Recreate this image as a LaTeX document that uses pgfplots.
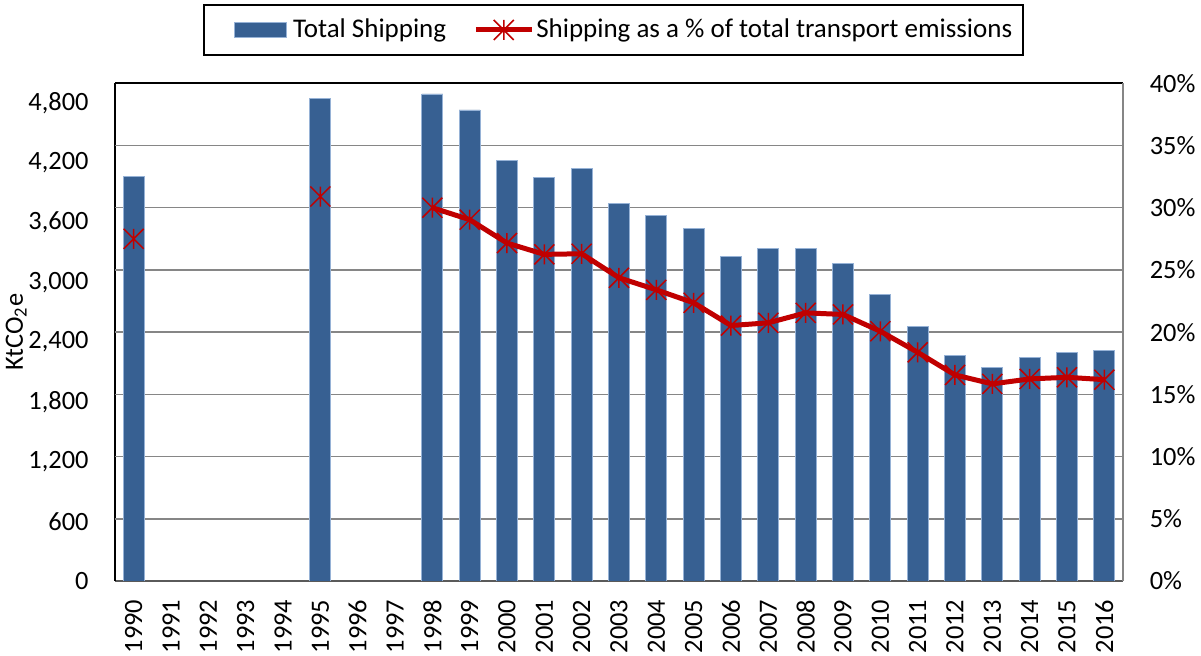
\documentclass[border=0pt]{standalone}
\usepackage{fontspec}
\setmainfont{Carlito}
\usepackage{pgfplots}
\pgfplotsset{compat=1.18}
\definecolor{barblue}{RGB}{55,96,146}
\definecolor{baredge}{RGB}{150,178,214}
\definecolor{linered}{RGB}{192,0,0}
\definecolor{gridgray}{RGB}{134,134,134}
\definecolor{botgray}{RGB}{90,90,90}
\pgfdeclareplotmark{xstar}{%
  \pgfpathmoveto{\pgfqpoint{0pt}{\pgfplotmarksize}}%
  \pgfpathlineto{\pgfqpoint{0pt}{-\pgfplotmarksize}}%
  \pgfpathmoveto{\pgfqpoint{-\pgfplotmarksize}{\pgfplotmarksize}}%
  \pgfpathlineto{\pgfqpoint{\pgfplotmarksize}{-\pgfplotmarksize}}%
  \pgfpathmoveto{\pgfqpoint{-\pgfplotmarksize}{-\pgfplotmarksize}}%
  \pgfpathlineto{\pgfqpoint{\pgfplotmarksize}{\pgfplotmarksize}}%
  \pgfusepathqstroke}
\pgfplotsset{
  linelegend/.style={legend image code/.code={\draw[##1, mark repeat=2, mark phase=2] plot coordinates {(0pt,0pt) (14pt,0pt) (28pt,0pt)};}},
  barlegend/.style={legend image code/.code={\path (-9.5pt,0pt); \draw[fill=barblue, draw=baredge, line width=0.4pt] (0pt,-3.75pt) rectangle (26pt,3.75pt);}},
}
\begin{document}
\begin{tikzpicture}[font=\fontsize{13.2}{15.8}\selectfont]
\path[use as bounding box] (-57.5pt,-37.5pt) rectangle (543pt,290.5pt);
\begin{axis}[
  scale only axis, width=504pt, height=248.85pt,
  xmin=-0.5, xmax=26.5, ymin=0, ymax=5000,
  axis x line*=bottom, axis y line*=left,
  x axis line style={draw=botgray, line width=0.9pt},
  y axis line style={draw=black, line width=0.9pt},
  xtick={0,...,26},
  xticklabels={1990,1991,1992,1993,1994,1995,1996,1997,1998,1999,2000,2001,2002,2003,2004,2005,2006,2007,2008,2009,2010,2011,2012,2013,2014,2015,2016},
  xticklabel style={rotate=90, anchor=east, inner sep=0pt},
  xticklabel shift=9.2pt,
  ytick={0,600,1200,1800,2400,3000,3600,4200,4800},
  yticklabels={0,600,{1,200},{1,800},{2,400},{3,000},{3,600},{4,200},{4,800}},
  yticklabel style={anchor=east, inner sep=0pt, xshift=-13pt},
  major tick length=0pt,
  extra y ticks={625,1250,1875,2500,3125,3750,4375},
  extra y tick labels={},
  extra y tick style={grid=major, major grid style={draw=gridgray, line width=0.75pt}},
  ylabel={KtCO\textsubscript{2}e},
  ylabel style={at={(axis description cs:-0.0873,0.5)}, anchor=south, inner sep=0pt},
  ybar, bar width=10.5pt,
]
\addplot[fill=barblue, draw=baredge, line width=0.4pt] coordinates {
 (0,4060) (5,4850) (8,4893) (9,4732) (10,4228) (11,4054) (12,4148) (13,3792)
 (14,3671) (15,3540) (16,3259) (17,3345) (18,3345) (19,3188) (20,2876)
 (21,2557) (22,2265) (23,2141) (24,2242) (25,2298) (26,2318)};
\end{axis}
\begin{axis}[
  scale only axis, width=504pt, height=248.85pt,
  xmin=-0.5, xmax=26.5, ymin=0, ymax=40,
  axis x line*=top, axis y line*=right,
  x axis line style={draw=black, line width=0.9pt},
  y axis line style={draw=gridgray, line width=0.9pt},
  xtick=\empty,
  ytick={0,5,10,15,20,25,30,35,40},
  yticklabels={0\%,5\%,10\%,15\%,20\%,25\%,30\%,35\%,40\%},
  yticklabel style={anchor=west, inner sep=0pt, xshift=13.2pt},
  major tick length=0pt,
  legend columns=2,
  legend style={at={(0.4945,1.1071)}, anchor=center, draw=black, line width=1pt,
    font=\fontsize{13.5}{16}\selectfont,
    inner xsep=5.5pt, inner ysep=7.2pt, nodes={inner sep=0pt},
    /tikz/column 1/.style={column sep=3pt},
    /tikz/column 2/.style={column sep=13.5pt},
    /tikz/column 3/.style={column sep=1pt}},
  legend cell align=left,
]
\addlegendimage{barlegend}
\addlegendentry{Total Shipping}
\addplot[color=linered, line width=2.5pt, mark=xstar, mark size=5pt,
  mark options={line width=0.75pt, solid}, linelegend]
 coordinates {
 (8,30.0) (9,29.04) (10,27.16) (11,26.25) (12,26.3) (13,24.37) (14,23.4)
 (15,22.36) (16,20.53) (17,20.75) (18,21.55) (19,21.42) (20,20.07)
 (21,18.38) (22,16.56) (23,15.84) (24,16.24) (25,16.37) (26,16.18)};
\addlegendentry{Shipping as a \% of total transport emissions}
\addplot[only marks, color=linered, mark=xstar, mark size=5pt,
  mark options={line width=0.75pt}, forget plot]
 coordinates {(0,27.5) (5,30.9)};
\end{axis}
\end{tikzpicture}
\end{document}
